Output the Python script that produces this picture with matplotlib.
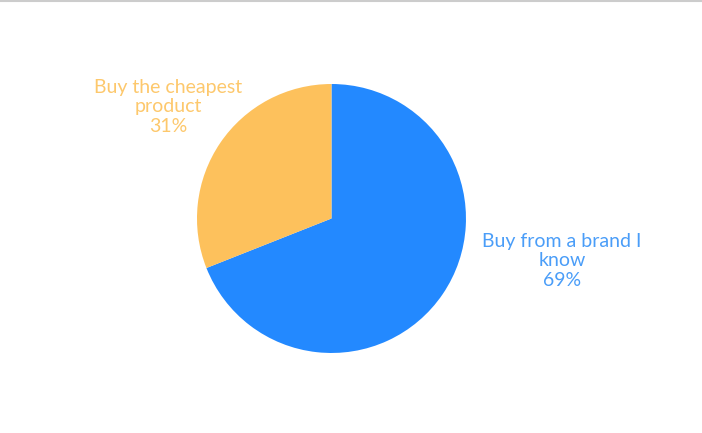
import matplotlib.pyplot as plt
from matplotlib.lines import Line2D

labels = ["Buy from a brand I\nknow", "Buy the cheapest\nproduct"]
values = [69, 31]
colors = ["#2389FF", "#FDC15C"]
text_colors = ["#4A9DF8", "#FDC86C"]

plt.rcParams['font.family'] = ['Lato', 'DejaVu Sans']

fig = plt.figure(figsize=(7.02, 4.33), dpi=100)
ax = fig.add_axes([0.2806, 0.1848, 0.3832, 0.6212])
ax.pie(values, colors=colors, startangle=90, counterclock=False,
       wedgeprops={'linewidth': 0})
ax.set_xlim(-1, 1)
ax.set_ylim(-1, 1)
ax.set_aspect('equal')

# label positions in data units (outside the pie)
label_pos = [(1.714, -0.316), (-1.216, 0.829)]
for lab, v, c, (x, y) in zip(labels, values, text_colors, label_pos):
    ax.text(x, y, f"{lab}\n{v}%", color=c, fontsize=14, ha='center',
            va='center', linespacing=1.15, clip_on=False)

# thin gray border at the top
fig.add_artist(Line2D([0, 1], [0.998, 0.998], color='#cccccc', lw=1.5,
                      transform=fig.transFigure))

fig.savefig("out.png", dpi=100)
